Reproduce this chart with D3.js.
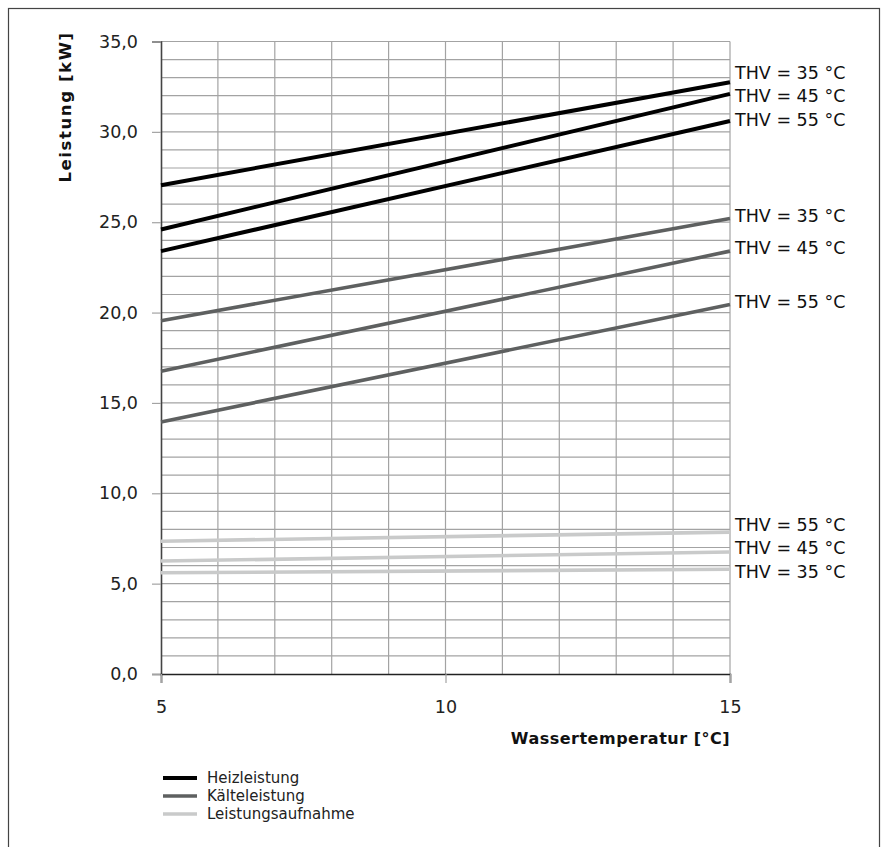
<!DOCTYPE html>
<html>
<head>
<meta charset="utf-8">
<script src="https://cdn.jsdelivr.net/npm/d3@7/dist/d3.min.js"></script>
<style>
  html, body { margin: 0; padding: 0; background: #fff; }
  svg { display: block; font-family: "DejaVu Sans", sans-serif; }
</style>
</head>
<body>
<svg id="chart" width="887" height="847"></svg>
<script>
// Water temperature (x) from 5 to 15 °C, all curves are straight lines
const waterTemp = [5, 15];

// Heizleistung (kW) for flow temperatures 35/45/55 °C
const heiz35 = [27.05, 32.75];
const heiz45 = [24.6, 32.1];
const heiz55 = [23.4, 30.6];

// Kälteleistung (kW)
const kaelte35 = [19.55, 25.2];
const kaelte45 = [16.75, 23.4];
const kaelte55 = [13.95, 20.45];

// Leistungsaufnahme (kW)
const aufnahme35 = [5.6, 5.8];
const aufnahme45 = [6.25, 6.75];
const aufnahme55 = [7.35, 7.85];

const thvLabels = ["THV = 35 °C", "THV = 45 °C", "THV = 55 °C"];
const yTickValues = [0, 5, 10, 15, 20, 25, 30, 35];
const xTickValues = [5, 10, 15];
const legendNames = ["Heizleistung", "Kälteleistung", "Leistungsaufnahme"];

const groups = [
  { name: legendNames[0], color: "#000000", width: 4, series: [heiz35, heiz45, heiz55] },
  { name: legendNames[1], color: "#5e6060", width: 3.6, series: [kaelte35, kaelte45, kaelte55] },
  { name: legendNames[2], color: "#c9caca", width: 3.6, series: [aufnahme35, aufnahme45, aufnahme55] }
];

const FONT = "'DejaVu Sans', sans-serif";
const svg = d3.select("#chart");

// outer frame
svg.append("rect")
  .attr("x", 8.5).attr("y", 8.5)
  .attr("width", 871).attr("height", 860)
  .attr("fill", "none").attr("stroke", "#444").attr("stroke-width", 1.2);

const x = d3.scaleLinear().domain([5, 15]).range([161, 730]);
const y = d3.scaleLinear().domain([0, 35]).range([674, 41.5]);

// grid
const grid = svg.append("g");
grid.selectAll("line.h").data(d3.range(1, 36)).join("line")
  .attr("x1", x(5)).attr("x2", x(15))
  .attr("y1", d => y(d)).attr("y2", d => y(d))
  .attr("stroke", "#a3a3a3").attr("stroke-width", 1.2);
grid.selectAll("line.v").data(d3.range(6, 16)).join("line")
  .attr("x1", d => x(d)).attr("x2", d => x(d))
  .attr("y1", y(0)).attr("y2", y(35))
  .attr("stroke", "#a3a3a3").attr("stroke-width", 1.2);

// y axis
const yAxis = svg.append("g")
  .attr("transform", `translate(${x(5)},0)`)
  .call(d3.axisLeft(y).tickValues(yTickValues).tickSize(9).tickPadding(14)
    .tickFormat(d => d3.format(".1f")(d).replace(".", ",")));
yAxis.select(".domain").attr("stroke", "#444").attr("stroke-width", 1.6);
yAxis.selectAll(".tick line").attr("stroke", "#a3a3a3").attr("stroke-width", 1.2);
yAxis.selectAll(".tick text").attr("font-size", 17.5).attr("fill", "#222")
  .attr("font-family", FONT);

// x axis
const xAxis = svg.append("g")
  .attr("transform", `translate(0,${y(0)})`)
  .call(d3.axisBottom(x).tickValues(xTickValues).tickSize(9).tickPadding(18)
    .tickFormat(d3.format("d")));
xAxis.select(".domain").attr("stroke", "#222").attr("stroke-width", 1.6);
xAxis.selectAll(".tick line").attr("stroke", "#a3a3a3").attr("stroke-width", 1.2);
xAxis.selectAll(".tick text").attr("font-size", 17.5).attr("fill", "#222")
  .attr("font-family", FONT);

// axis titles
svg.append("text")
  .attr("transform", `translate(71,107) rotate(-90)`)
  .attr("text-anchor", "middle")
  .attr("font-family", FONT)
  .attr("font-size", 16.5).attr("font-weight", "bold").attr("fill", "#111")
  .attr("letter-spacing", 1.6)
  .text("Leistung [kW]");
svg.append("text")
  .attr("x", x(15)).attr("y", 744)
  .attr("text-anchor", "end")
  .attr("font-family", FONT)
  .attr("font-size", 16).attr("font-weight", "bold").attr("fill", "#111")
  .attr("letter-spacing", 0.5)
  .text("Wassertemperatur [°C]");

// curves
const line = d3.line().x((d, i) => x(waterTemp[i])).y(d => y(d));
groups.forEach(g => {
  svg.append("g").selectAll("path").data(g.series).join("path")
    .attr("d", line)
    .attr("fill", "none")
    .attr("stroke", g.color)
    .attr("stroke-width", g.width);
});

// end labels, spread apart so neighbouring labels do not overlap
function spreadLabels(items, gap) {
  items.sort((a, b) => a.y - b.y);
  let clusters = items.map(it => ({ members: [it], center: it.y }));
  let merged = true;
  while (merged) {
    merged = false;
    for (let i = 0; i < clusters.length - 1; i++) {
      const a = clusters[i], b = clusters[i + 1];
      const aBottom = a.center + (a.members.length - 1) * gap / 2;
      const bTop = b.center - (b.members.length - 1) * gap / 2;
      if (bTop - aBottom < gap) {
        const members = a.members.concat(b.members);
        const center = d3.mean(members, m => m.y);
        clusters.splice(i, 2, { members, center });
        merged = true;
        break;
      }
    }
  }
  clusters.forEach(c => {
    c.members.forEach((m, k) => {
      m.ly = c.center + (k - (c.members.length - 1) / 2) * gap;
    });
  });
  return items;
}

groups.forEach(g => {
  const items = g.series.map((s, i) => ({ text: thvLabels[i], y: y(s[s.length - 1]) }));
  spreadLabels(items, 23.5);
  svg.append("g").selectAll("text").data(items).join("text")
    .attr("x", x(15) + 5)
    .attr("y", d => d.ly - 3)
    .attr("dy", "0.35em")
    .attr("font-size", 17.5).attr("fill", "#111")
    .attr("font-family", FONT)
    .text(d => d.text);
});

// legend
const legend = svg.append("g");
groups.forEach((g, i) => {
  const ly = 778 + i * 18;
  legend.append("line")
    .attr("x1", 163).attr("x2", 197)
    .attr("y1", ly).attr("y2", ly)
    .attr("stroke", g.color).attr("stroke-width", g.width);
  legend.append("text")
    .attr("x", 207).attr("y", ly).attr("dy", "0.35em")
    .attr("font-size", 15).attr("fill", "#222")
    .attr("font-family", FONT)
    .text(g.name);
});
</script>
</body>
</html>
